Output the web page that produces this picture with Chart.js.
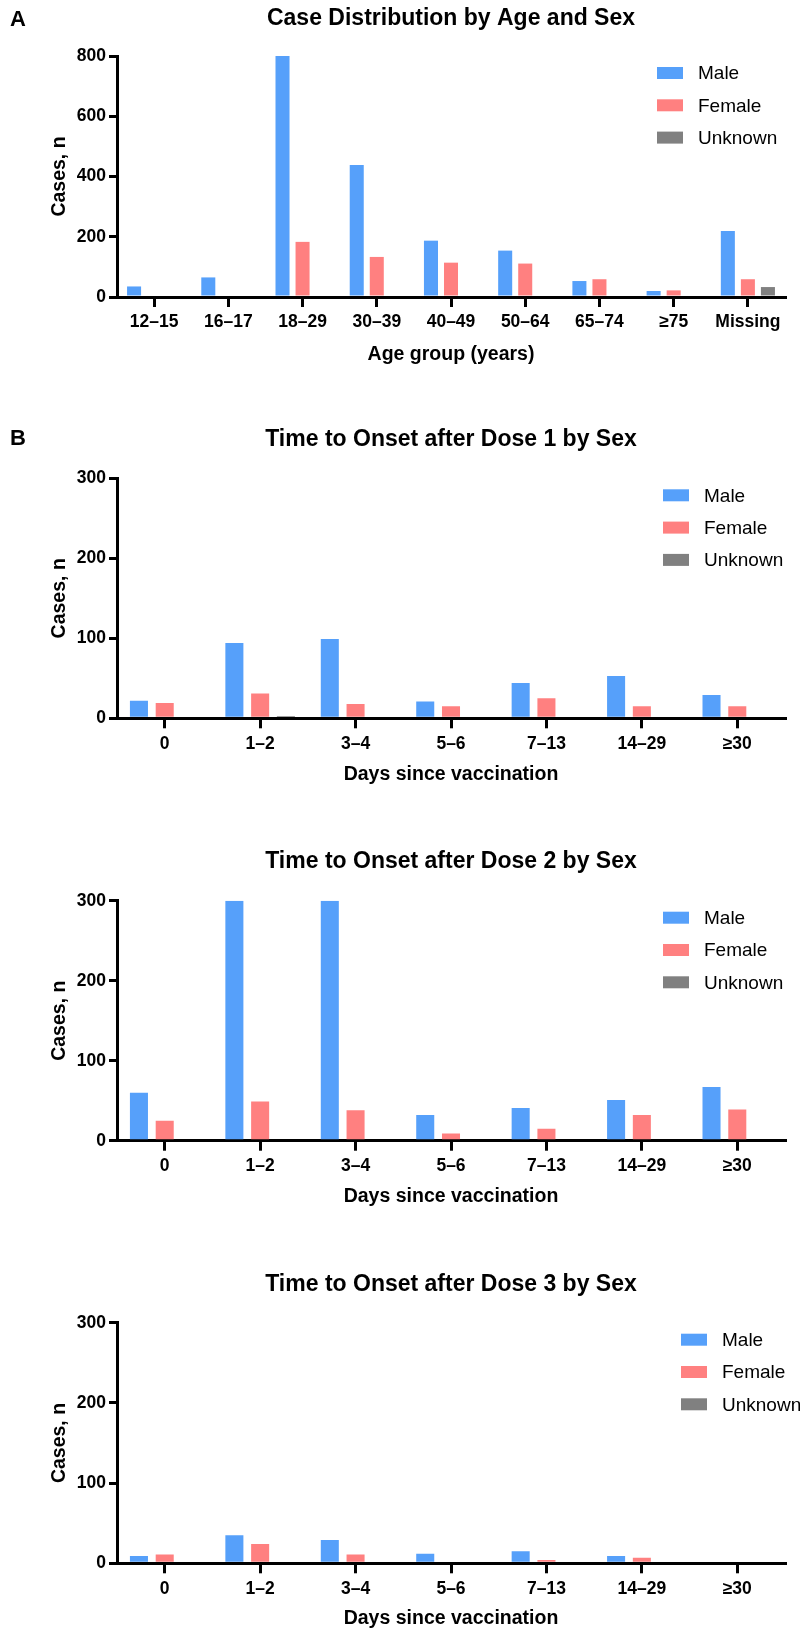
<!DOCTYPE html>
<html>
<head>
<meta charset="utf-8">
<script src="https://cdn.jsdelivr.net/npm/chart.js@4.4.1/dist/chart.umd.min.js"></script>
<style>
  html, body { margin: 0; padding: 0; background: #fff; }
  body { width: 800px; height: 1630px; position: relative; overflow: hidden; }
  canvas { position: absolute; left: 0; display: block; }
</style>
</head>
<body>
<canvas id="cA" width="800" height="410" style="top:0px"></canvas>
<canvas id="cB1" width="800" height="420" style="top:410px"></canvas>
<canvas id="cB2" width="800" height="420" style="top:830px"></canvas>
<canvas id="cB3" width="800" height="380" style="top:1250px"></canvas>
<script>
// ---------- data ----------
const ageGroups = ['12–15', '16–17', '18–29', '30–39', '40–49', '50–64', '65–74', '≥75', 'Missing'];
const ageMale    = [35, 65, 802, 438, 187, 154, 53, 20, 219];
const ageFemale  = [0, 0, 183, 133, 114, 111, 59, 22, 59];
const ageUnknown = [0, 0, 0, 0, 0, 0, 0, 0, 33];

const dayGroups = ['0', '1–2', '3–4', '5–6', '7–13', '14–29', '≥30'];
const dose1Male    = [22, 94, 99, 21, 44, 53, 29];
const dose1Female  = [19, 31, 18, 15, 25, 15, 15];
const dose1Unknown = [0, 3, 0, 0, 0, 0, 0];

const dose2Male    = [60, 300, 300, 32, 41, 51, 67];
const dose2Female  = [25, 49, 38, 9, 15, 32, 39];
const dose2Unknown = [0, 0, 0, 0, 0, 0, 0];

const dose3Male    = [9, 35, 29, 12, 15, 9, 0];
const dose3Female  = [11, 24, 11, 0, 4, 7, 0];
const dose3Unknown = [0, 0, 0, 0, 0, 0, 0];

const seriesNames = ['Male', 'Female', 'Unknown'];
const yTitle = 'Cases, n';

// ---------- style ----------
const FONT = "'Liberation Sans', Arial, Helvetica, sans-serif";
const COLORS = ['#56A0FA', '#FF8080', '#808080'];
Chart.defaults.font.family = FONT;
Chart.defaults.color = '#000';

function panel(cfg) {
  const H = cfg.canvasH;
  const top = cfg.chartTop - cfg.canvasTop;
  const bottom = cfg.chartBottom - cfg.canvasTop;
  const titleLH = 19.5 * 1.2;
  const xPad = Math.max(0, H - (cfg.xTitleY - cfg.canvasTop) - titleLH / 2);

  const overlay = {
    id: 'overlay_' + cfg.id,
    afterDraw(chart) {
      const ctx = chart.ctx;
      const ca = chart.chartArea;
      ctx.save();
      ctx.fillStyle = '#000';
      ctx.textBaseline = 'middle';
      ctx.font = 'bold 23px ' + FONT;
      ctx.textAlign = 'center';
      ctx.fillText(cfg.title, (ca.left + ca.right) / 2, cfg.titleY - cfg.canvasTop);
      if (cfg.letter) {
        ctx.textAlign = 'left';
        ctx.font = 'bold 22px ' + FONT;
        ctx.fillText(cfg.letter, 10, cfg.letterY - cfg.canvasTop);
      }
      ctx.font = '19px ' + FONT;
      chart.data.datasets.forEach((ds, i) => {
        const y = ca.top + 17 + 32.3 * i;
        ctx.fillStyle = ds.backgroundColor;
        ctx.fillRect(cfg.legendX, y - 6, 26, 12);
        ctx.fillStyle = '#000';
        ctx.textAlign = 'left';
        ctx.fillText(ds.label, cfg.legendX + 41, y + 1);
      });
      ctx.restore();
    }
  };

  const datasets = cfg.series.map((vals, i) => ({
    label: seriesNames[i],
    data: vals,
    backgroundColor: COLORS[i],
    borderWidth: 0,
    categoryPercentage: 0.81,
    barPercentage: 0.70
  }));

  new Chart(document.getElementById(cfg.id), {
    type: 'bar',
    data: { labels: cfg.labels, datasets },
    options: {
      responsive: false,
      animation: false,
      events: [],
      layout: { padding: { top: top, right: 15, bottom: 0, left: 0 } },
      plugins: { legend: { display: false }, title: { display: false }, tooltip: { enabled: false } },
      scales: {
        x: {
          type: 'category',
          offset: true,
          z: 1,
          grid: { display: true, drawOnChartArea: false, drawTicks: true, tickLength: 10, lineWidth: 3, color: '#000', offset: false },
          border: { display: true, width: 3, color: '#000' },
          ticks: { color: '#000', font: { family: FONT, size: 17.5, weight: 'bold' }, padding: 5, maxRotation: 0, autoSkip: false },
          title: { display: true, text: cfg.xTitle, color: '#000', font: { family: FONT, size: 19.5, weight: 'bold' }, padding: { top: 0, bottom: xPad } },
          afterFit: s => { s.height = H - bottom; }
        },
        y: {
          min: 0,
          max: cfg.yMax,
          z: 1,
          grid: { display: true, drawOnChartArea: false, drawTicks: true, tickLength: 8, lineWidth: 3, color: '#000' },
          border: { display: true, width: 3, color: '#000' },
          ticks: { stepSize: cfg.yStep, color: '#000', font: { family: FONT, size: 17.5, weight: 'bold' }, padding: 3 },
          title: { display: true, text: yTitle, color: '#000', font: { family: FONT, size: 19.5, weight: 'bold' }, padding: { top: 48, bottom: 0 } },
          afterFit: s => { s.width = 117; }
        }
      }
    },
    plugins: [overlay]
  });
}

panel({ id: 'cA', canvasTop: 0, canvasH: 410, chartTop: 56, chartBottom: 297, titleY: 18.5, letter: 'A', letterY: 20,
  xTitleY: 354.5, legendX: 657, title: 'Case Distribution by Age and Sex', xTitle: 'Age group (years)',
  labels: ageGroups, series: [ageMale, ageFemale, ageUnknown], yMax: 800, yStep: 200 });

panel({ id: 'cB1', canvasTop: 410, canvasH: 420, chartTop: 478.3, chartBottom: 718.3, titleY: 439.5, letter: 'B', letterY: 438.5,
  xTitleY: 775, legendX: 663, title: 'Time to Onset after Dose 1 by Sex', xTitle: 'Days since vaccination',
  labels: dayGroups, series: [dose1Male, dose1Female, dose1Unknown], yMax: 300, yStep: 100 });

panel({ id: 'cB2', canvasTop: 830, canvasH: 420, chartTop: 900.7, chartBottom: 1140.7, titleY: 862,
  xTitleY: 1197, legendX: 663, title: 'Time to Onset after Dose 2 by Sex', xTitle: 'Days since vaccination',
  labels: dayGroups, series: [dose2Male, dose2Female, dose2Unknown], yMax: 300, yStep: 100 });

panel({ id: 'cB3', canvasTop: 1250, canvasH: 380, chartTop: 1322.7, chartBottom: 1563.3, titleY: 1284.7,
  xTitleY: 1619, legendX: 681, title: 'Time to Onset after Dose 3 by Sex', xTitle: 'Days since vaccination',
  labels: dayGroups, series: [dose3Male, dose3Female, dose3Unknown], yMax: 300, yStep: 100 });
</script>
</body>
</html>
